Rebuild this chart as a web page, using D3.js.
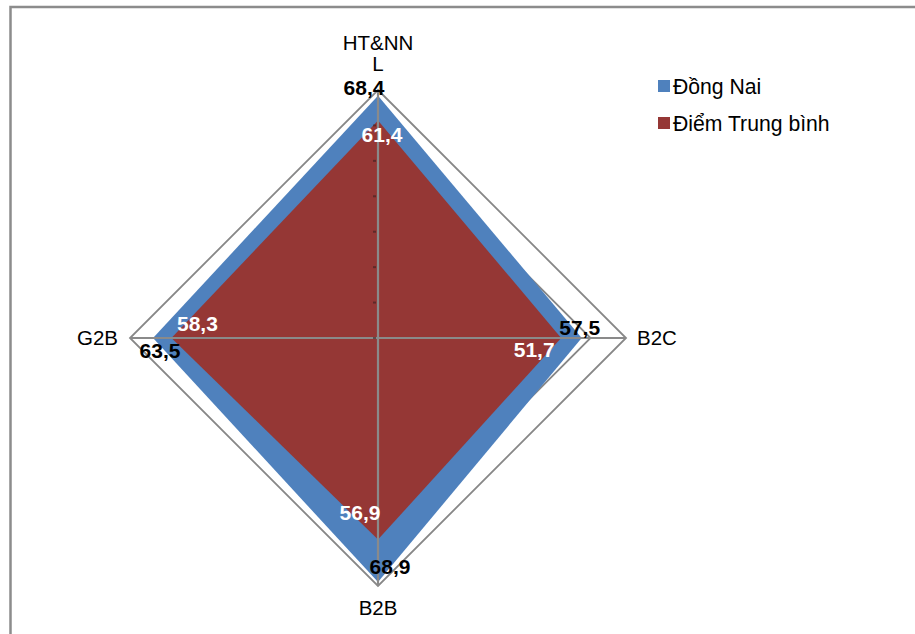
<!DOCTYPE html>
<html>
<head>
<meta charset="utf-8">
<script src="https://cdn.jsdelivr.net/npm/d3@7"></script>
<style>
  html, body { margin: 0; padding: 0; background: #fff; }
  svg { display: block; font-family: "Liberation Sans", Arial, sans-serif; }
</style>
</head>
<body>
<svg id="chart" width="915" height="634"></svg>
<script>
const categories = ["HT&NNL", "B2C", "B2B", "G2B"];
const seriesNames = ["Đồng Nai", "Điểm Trung bình"];
const dongNai = [68.4, 57.5, 68.9, 63.5];
const trungBinh = [61.4, 51.7, 56.9, 58.3];
const gridTicks = [10, 20, 30, 40, 50, 60, 70];
const colors = ["#4f81bd", "#953735"];

(function () {
const svg = d3.select("#chart");
const cx = 378, cy = 338, R = 248;
const r = d3.scaleLinear().domain([0, 70]).range([0, R]);
const angle = d3.scalePoint().domain(categories).range([0, 2 * Math.PI * (categories.length - 1) / categories.length]);
const pt = (cat, v) => {
  const a = angle(cat);
  return [cx + r(v) * Math.sin(a), cy - r(v) * Math.cos(a)];
};

// border
svg.append("path")
  .attr("d", `M10.5,634 L10.5,7 L915,7`)
  .attr("fill", "none").attr("stroke", "#8c8c8c").attr("stroke-width", 2.5);

// grid rings (drawn behind fills)
svg.append("g").selectAll("polygon").data(gridTicks).join("polygon")
  .attr("points", t => categories.map(c => pt(c, t).join(",")).join(" "))
  .attr("fill", "none").attr("stroke", "#878787").attr("stroke-width", 1.8);

// series fills
const series = [dongNai, trungBinh];
svg.append("g").selectAll("polygon").data(series).join("polygon")
  .attr("points", vals => categories.map((c, i) => pt(c, vals[i]).join(",")).join(" "))
  .attr("fill", (d, i) => colors[i]);

// spokes
svg.append("g").selectAll("line").data(categories).join("line")
  .attr("x1", cx).attr("y1", cy)
  .attr("x2", c => pt(c, 70)[0]).attr("y2", c => pt(c, 70)[1])
  .attr("stroke", "#8a8a8a").attr("stroke-width", 2.2);

// tick marks on the first axis
svg.append("g").selectAll("line").data([0].concat(gridTicks.slice(0, -1))).join("line")
  .attr("x1", cx - 5).attr("x2", cx - 2)
  .attr("y1", t => pt(categories[0], t)[1]).attr("y2", t => pt(categories[0], t)[1])
  .attr("stroke", "rgba(50,30,30,0.55)").attr("stroke-width", 2);

// category labels
const catFont = 20.5;
const catLbl = svg.append("g").attr("font-size", catFont).attr("fill", "#000");
const pTop = pt(categories[0], 70);
catLbl.append("text").attr("x", pTop[0]).attr("y", pTop[1] - 40).attr("text-anchor", "middle").text("HT&NN");
catLbl.append("text").attr("x", pTop[0]).attr("y", pTop[1] - 19).attr("text-anchor", "middle").text("L");
const pRight = pt(categories[1], 70);
catLbl.append("text").attr("x", pRight[0] + 11).attr("y", pRight[1] + 7).attr("text-anchor", "start").text(categories[1]);
const pBottom = pt(categories[2], 70);
catLbl.append("text").attr("x", pBottom[0]).attr("y", pBottom[1] + 29).attr("text-anchor", "middle").text(categories[2]);
const pLeft = pt(categories[3], 70);
catLbl.append("text").attr("x", pLeft[0] - 12).attr("y", pLeft[1] + 7).attr("text-anchor", "end").text(categories[3]);

// data labels
const fmt = v => String(v.toFixed(1)).replace(".", ",");
const offA = [[-14, -1], [-2, -3], [12, -8], [7, 20]];     // Đồng Nai
const offB = [[4, 22], [-27, 19], [-18, -20], [26, -7]];   // Trung bình
const lblG = svg.append("g").attr("font-size", 21).attr("font-weight", "bold").attr("text-anchor", "middle");
categories.forEach((c, i) => {
  const p = pt(c, dongNai[i]);
  lblG.append("text").attr("x", p[0] + offA[i][0]).attr("y", p[1] + offA[i][1]).attr("fill", "#000").text(fmt(dongNai[i]));
  const q = pt(c, trungBinh[i]);
  lblG.append("text").attr("x", q[0] + offB[i][0]).attr("y", q[1] + offB[i][1]).attr("fill", "#fff").text(fmt(trungBinh[i]));
});

// legend
const leg = svg.append("g").attr("font-size", 21.2);
seriesNames.forEach((n, i) => {
  const y = 80 + i * 37;
  leg.append("rect").attr("x", 658).attr("y", y).attr("width", 12).attr("height", 12).attr("fill", colors[i]);
  leg.append("text").attr("x", 673).attr("y", y + 13.5).text(n);
});
})();
</script>
</body>
</html>
